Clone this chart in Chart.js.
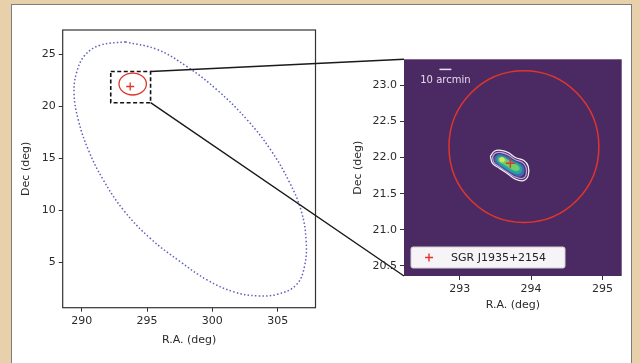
<!DOCTYPE html>
<html><head><meta charset="utf-8">
<script src="https://cdn.jsdelivr.net/npm/chart.js@4/dist/chart.umd.min.js"></script>
<style>
html,body{margin:0;padding:0;background:#e8d0ab;width:640px;height:363px;overflow:hidden;}
#panel{position:absolute;left:11px;top:4px;width:621px;height:380px;background:#fff;border:1.5px solid #7d7d7d;box-sizing:border-box;}
canvas{position:absolute;left:0;top:0;}
</style></head><body>
<div id="panel"></div>
<canvas id="main" width="640" height="363"></canvas>
<canvas id="inset" width="640" height="363"></canvas>
<script>
// ---------- data ----------
const mainRA = [288.54, 307.9];
const mainDec = [0.65, 27.35];
const mainRATicks = [290, 295, 300, 305];
const mainDecTicks = [5, 10, 15, 20, 25];

const insetRA = [292.22, 295.27];
const insetDec = [20.36, 23.36];
const insetRATicks = [293, 294, 295];
const insetDecTicks = [20.5, 21.0, 21.5, 22.0, 22.5, 23.0];

// large localisation region (dotted outline)
const regionRA  = [293.33,295.77,298.08,300.38,302.69,304.48,305.89,306.79,307.18,307.05,306.41,305.00,303.46,301.66,299.62,297.56,295.25,293.20,291.66,290.51,289.74,289.41,289.62,290.25,291.41];
const regionDec = [26.21,25.48,23.81,21.57,18.68,15.80,12.75,10.03,7.14,4.58,2.82,1.95,1.79,2.17,3.30,5.06,7.31,10.03,12.91,15.80,18.68,21.25,23.33,24.93,25.89];

// source position
const sourceName = 'SGR J1935+2154';
const sourceRA = [293.71];
const sourceDec = [21.92];

// red circle (centre and radius, deg)
const circleRA = [293.9];
const circleDec = [22.15];
const circleRadius = [1.05];

// contour levels in the zoomed map
const c1RA  = [293.43,293.49,293.58,293.68,293.78,293.90,293.96,293.96,293.89,293.78,293.68,293.56,293.46];
const c1Dec = [22.02,22.09,22.10,22.07,22.00,21.96,21.88,21.75,21.68,21.70,21.77,21.85,21.92];
const c2RA  = [293.46,293.50,293.58,293.67,293.78,293.88,293.93,293.93,293.88,293.78,293.68,293.56,293.48];
const c2Dec = [22.01,22.06,22.07,22.04,21.97,21.93,21.86,21.76,21.71,21.73,21.79,21.87,21.93];
const c3RA  = [293.49,293.53,293.59,293.67,293.77,293.86,293.90,293.89,293.84,293.77,293.67,293.56,293.50];
const c3Dec = [22.00,22.04,22.04,22.01,21.95,21.91,21.85,21.77,21.74,21.76,21.82,21.89,21.94];
const c4RA  = [293.52,293.56,293.62,293.70,293.80,293.86,293.86,293.80,293.72,293.62,293.54];
const c4Dec = [21.99,22.02,22.01,21.96,21.92,21.87,21.80,21.78,21.81,21.87,21.93];
const c5RA  = [293.55,293.60,293.66,293.74,293.82,293.83,293.78,293.70,293.60,293.55];
const c5Dec = [21.99,22.00,21.97,21.92,21.88,21.83,21.82,21.86,21.92,21.95];
const c6RA  = [293.56,293.60,293.63,293.61,293.57];
const c6Dec = [21.99,22.00,21.97,21.94,21.95];

const scaleBarArcmin = [10];

// ---------- helpers ----------
Chart.defaults.font.family = "'DejaVu Sans', sans-serif";
Chart.defaults.font.size = 11;
const TXT = '#2b2b2b';
const RED = '#e0352b';
const zip = (xs, ys) => xs.map((x, i) => ({x: x, y: ys[i]}));
const closed = pts => pts.concat([pts[0]]);

function axis(range, ticksArr, fmt, title, pos, fitSize) {
  return {
    type: 'linear', position: pos, min: range[0], max: range[1],
    afterBuildTicks: s => { s.ticks = ticksArr.map(v => ({value: v})); },
    ticks: {color: TXT, padding: 3, autoSkip: false, maxRotation: 0, callback: v => fmt(v), font: {size: 11}},
    grid: {drawOnChartArea: false, drawTicks: true, tickLength: 4, tickColor: '#333', tickWidth: 1},
    border: {display: false},
    title: {display: true, text: title, color: TXT, font: {size: 11}, padding: {top: 4, bottom: 4}},
    afterFit: s => { if (pos === 'bottom') s.height = fitSize; else s.width = fitSize; }
  };
}

function drawCircle(chart, lw) {
  const {ctx, scales: {x, y}} = chart;
  const cx = x.getPixelForValue(circleRA[0]), cy = y.getPixelForValue(circleDec[0]);
  const rx = Math.abs(x.getPixelForValue(circleRA[0] + circleRadius[0]) - cx);
  const ry = Math.abs(y.getPixelForValue(circleDec[0] + circleRadius[0]) - cy);
  ctx.save();
  ctx.beginPath(); ctx.ellipse(cx, cy, rx, ry, 0, 0, 2 * Math.PI);
  ctx.strokeStyle = RED; ctx.lineWidth = lw; ctx.stroke();
  ctx.restore();
}

function drawCross(ctx, x, y, r, lw) {
  ctx.save(); ctx.strokeStyle = RED; ctx.lineWidth = lw;
  ctx.beginPath(); ctx.moveTo(x - r, y); ctx.lineTo(x + r, y); ctx.moveTo(x, y - r); ctx.lineTo(x, y + r); ctx.stroke();
  ctx.restore();
}

const mainDecor = {
  id: 'mainDecor',
  beforeDatasetsDraw(chart) { drawCircle(chart, 1.3); },
  afterDraw(chart) {
    const {ctx, chartArea: a, scales: {x, y}} = chart;
    ctx.save();
    ctx.strokeStyle = '#333'; ctx.lineWidth = 1.2;
    ctx.strokeRect(a.left, a.top, a.right - a.left, a.bottom - a.top);
    const x0 = x.getPixelForValue(insetRA[0]), x1 = x.getPixelForValue(insetRA[1]);
    const y0 = y.getPixelForValue(insetDec[0]), y1 = y.getPixelForValue(insetDec[1]);
    ctx.strokeStyle = '#111'; ctx.lineWidth = 1.6; ctx.setLineDash([4, 2.5]);
    ctx.strokeRect(x0, y1, x1 - x0, y0 - y1);
    ctx.restore();
  }
};

const mainChart = new Chart(document.getElementById('main'), {
  type: 'line',
  data: {datasets: [
    {label: sourceName, data: zip(sourceRA, sourceDec), showLine: false, pointStyle: 'cross', pointRadius: 4,
     borderColor: RED, pointBorderColor: RED, pointBorderWidth: 1.3, order: 0},
    {label: 'region', data: closed(zip(regionRA, regionDec)), borderColor: '#5f5fbf', borderWidth: 1.5,
     borderDash: [1.5, 2.2], pointRadius: 0, tension: 0.4, fill: false, order: 1}
  ]},
  options: {
    responsive: false, animation: false, events: [],
    layout: {padding: {left: 16, top: 30, right: 324.5, bottom: 12.3}},
    plugins: {legend: {display: false}, tooltip: {enabled: false}},
    scales: {
      x: axis(mainRA, mainRATicks, v => String(v), 'R.A. (deg)', 'bottom', 43),
      y: axis(mainDec, mainDecTicks, v => String(v), 'Dec (deg)', 'left', 46.7)
    }
  },
  plugins: [mainDecor]
});

const insetDecor = {
  id: 'insetDecor',
  beforeDraw(chart) {
    const {ctx, chartArea: a} = chart;
    const mx = mainChart.scales.x, my = mainChart.scales.y;
    ctx.save();
    ctx.strokeStyle = '#1a1a1a'; ctx.lineWidth = 1.4;
    ctx.beginPath();
    ctx.moveTo(mx.getPixelForValue(insetRA[1]), my.getPixelForValue(insetDec[1])); ctx.lineTo(a.left, a.top);
    ctx.moveTo(mx.getPixelForValue(insetRA[1]), my.getPixelForValue(insetDec[0])); ctx.lineTo(a.left, a.bottom);
    ctx.stroke();
    ctx.fillStyle = '#4b2a63';
    ctx.fillRect(a.left, a.top, a.right - a.left, a.bottom - a.top);
    ctx.restore();
  },
  afterDatasetsDraw(chart) {
    const {ctx, chartArea: a, scales: {x, y}} = chart;
    drawCircle(chart, 1.5);
    // scale bar
    ctx.save();
    const barRA = 292.80, barDec = 23.22;
    const deg = scaleBarArcmin[0] / 60;
    const bx0 = x.getPixelForValue(barRA - deg / 2), bx1 = x.getPixelForValue(barRA + deg / 2);
    const by = y.getPixelForValue(barDec);
    ctx.strokeStyle = '#ece0f0'; ctx.lineWidth = 1.5;
    ctx.beginPath(); ctx.moveTo(bx0, by); ctx.lineTo(bx1, by); ctx.stroke();
    ctx.fillStyle = '#e6d8ee'; ctx.font = "10px 'DejaVu Sans'"; ctx.textAlign = 'center'; ctx.textBaseline = 'middle';
    ctx.fillText(scaleBarArcmin[0] + ' arcmin', (bx0 + bx1) / 2, by + 11);
    // legend
    const lx = a.left + 7, lh = 21, lw = 154, ly = a.bottom - 8 - lh;
    ctx.fillStyle = 'rgba(255,255,255,0.95)'; ctx.strokeStyle = '#d0d0d0'; ctx.lineWidth = 1;
    ctx.beginPath();
    if (ctx.roundRect) ctx.roundRect(lx, ly, lw, lh, 2); else ctx.rect(lx, ly, lw, lh);
    ctx.fill(); ctx.stroke();
    drawCross(ctx, lx + 18, ly + lh / 2, 4, 1.4);
    ctx.fillStyle = '#222'; ctx.font = "11px 'DejaVu Sans'"; ctx.textAlign = 'left';
    ctx.fillText(chart.data.datasets[0].label, lx + 40, ly + lh / 2 + 0.5);
    ctx.restore();
  }
};

new Chart(document.getElementById('inset'), {
  type: 'line',
  data: {datasets: [
    {label: sourceName, data: zip(sourceRA, sourceDec), showLine: false, pointStyle: 'cross', pointRadius: 4.5,
     borderColor: RED, pointBorderColor: RED, pointBorderWidth: 1.5, order: 0},
    {label: 'c6', data: closed(zip(c6RA, c6Dec)), fill: 'shape', backgroundColor: '#dde35a', borderColor: '#dde35a', borderWidth: 0.8, pointRadius: 0, tension: 0.4, order: 1},
    {label: 'c5', data: closed(zip(c5RA, c5Dec)), fill: 'shape', backgroundColor: '#6fcf6a', borderColor: '#6fcf6a', borderWidth: 0.8, pointRadius: 0, tension: 0.4, order: 2},
    {label: 'c4', data: closed(zip(c4RA, c4Dec)), fill: 'shape', backgroundColor: '#2aa6a0', borderColor: '#2aa6a0', borderWidth: 0.8, pointRadius: 0, tension: 0.4, order: 3},
    {label: 'c3', data: closed(zip(c3RA, c3Dec)), fill: 'shape', backgroundColor: '#3e6db3', borderColor: '#3e6db3', borderWidth: 0.8, pointRadius: 0, tension: 0.4, order: 4},
    {label: 'c2', data: closed(zip(c2RA, c2Dec)), fill: false, borderColor: '#b8a2dc', borderWidth: 1.3, pointRadius: 0, tension: 0.4, order: 5},
    {label: 'c1', data: closed(zip(c1RA, c1Dec)), fill: false, borderColor: '#f4eef8', borderWidth: 1.3, pointRadius: 0, tension: 0.4, order: 6}
  ]},
  options: {
    responsive: false, animation: false, events: [],
    layout: {padding: {left: 347.4, top: 59.3, right: 18.3, bottom: 47.4}},
    plugins: {legend: {display: false}, tooltip: {enabled: false}},
    scales: {
      x: axis(insetRA, insetRATicks, v => String(v), 'R.A. (deg)', 'bottom', 39.6),
      y: axis(insetDec, insetDecTicks, v => v.toFixed(1), 'Dec (deg)', 'left', 56.6)
    }
  },
  plugins: [insetDecor]
});
</script>
</body></html>
